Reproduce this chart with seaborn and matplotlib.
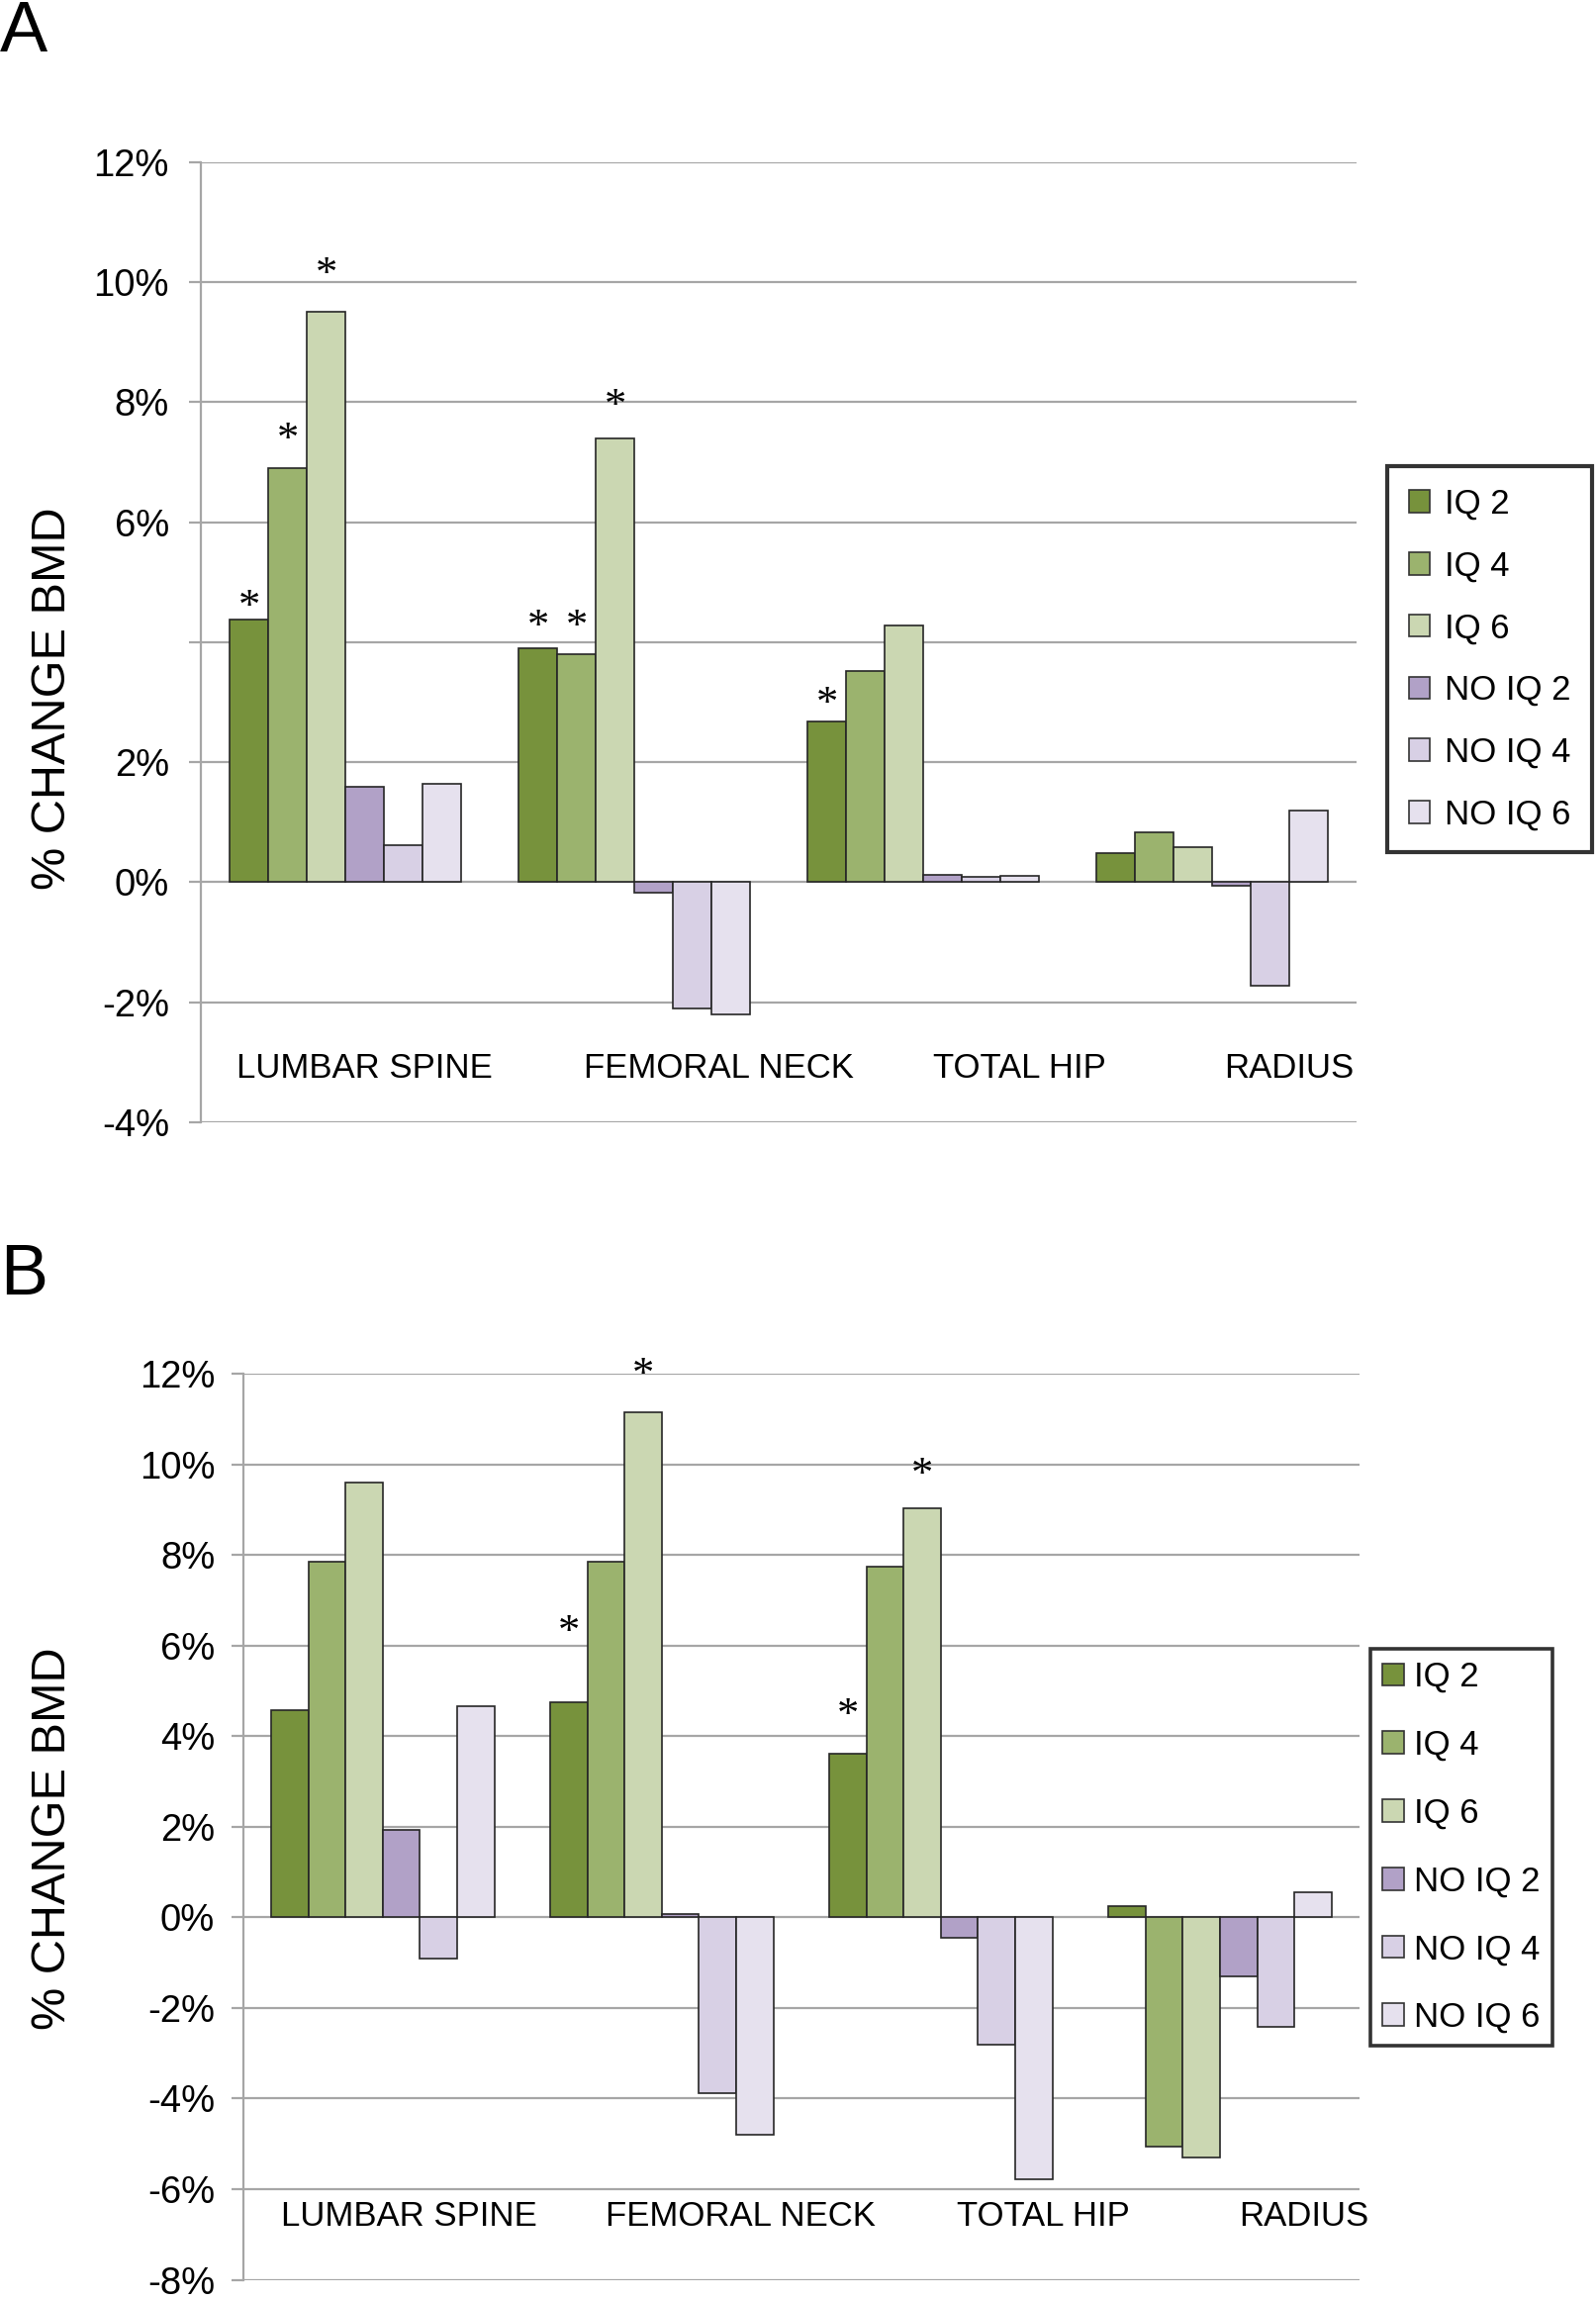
import numpy as np
import pandas as pd
import matplotlib
matplotlib.use("Agg")
import matplotlib.pyplot as plt
import matplotlib.transforms as mtransforms
from matplotlib.patches import Patch
import seaborn as sns

# ---------------- data ----------------
sites = ["LUMBAR SPINE", "FEMORAL NECK", "TOTAL HIP", "RADIUS"]
groups = ["IQ 2", "IQ 4", "IQ 6", "NO IQ 2", "NO IQ 4", "NO IQ 6"]
colors = ["#77923c", "#9bb36e", "#cbd7b2", "#b1a1c7", "#d8d0e5", "#e6e1ee"]

# Panel A (% change BMD)
a_iq2 = [4.37, 3.90, 2.68, 0.49]
a_iq4 = [6.91, 3.80, 3.52, 0.83]
a_iq6 = [9.51, 7.40, 4.28, 0.58]
a_no2 = [1.59, -0.17, 0.12, -0.06]
a_no4 = [0.61, -2.10, 0.09, -1.72]
a_no6 = [1.64, -2.20, 0.10, 1.20]

# Panel B (% change BMD)
b_iq2 = [4.57, 4.74, 3.62, 0.25]
b_iq4 = [7.84, 7.85, 7.73, -5.07]
b_iq6 = [9.60, 11.14, 9.04, -5.31]
b_no2 = [1.92, 0.08, -0.45, -1.31]
b_no4 = [-0.90, -3.87, -2.82, -2.42]
b_no6 = [4.67, -4.79, -5.77, 0.56]

# significance asterisks: (site, group, height of the asterisk)
stars_a = [("LUMBAR SPINE", "IQ 2", 4.74), ("LUMBAR SPINE", "IQ 4", 7.52),
           ("LUMBAR SPINE", "IQ 6", 10.28), ("FEMORAL NECK", "IQ 2", 4.41),
           ("FEMORAL NECK", "IQ 4", 4.41), ("FEMORAL NECK", "IQ 6", 8.08),
           ("TOTAL HIP", "IQ 2", 3.12)]
stars_b = [("FEMORAL NECK", "IQ 2", 6.49), ("FEMORAL NECK", "IQ 6", 12.17),
           ("TOTAL HIP", "IQ 2", 4.65), ("TOTAL HIP", "IQ 6", 9.96)]

yticks_a = [-4, -2, 0, 2, 4, 6, 8, 10, 12]
yticklabels_a = ["-4%", "-2%", "0%", "2%", "", "6%", "8%", "10%", "12%"]
yticks_b = [-8, -6, -4, -2, 0, 2, 4, 6, 8, 10, 12]
yticklabels_b = ["-8%", "-6%", "-4%", "-2%", "0%", "2%", "4%", "6%", "8%", "10%", "12%"]

ylabel = "% CHANGE BMD"

# ---------------- style ----------------
sns.set_style("white")
plt.rcParams["font.family"] = ["Liberation Sans", "DejaVu Sans"]
plt.rcParams["text.color"] = "black"
plt.rcParams["ytick.labelcolor"] = "black"

GRID = "#a6a6a6"
EDGE = "#262626"

fig = plt.figure(figsize=(16.13, 23.25), dpi=100)
W, H = 1613.0, 2325.0


def fig_rect(x0, y0, x1, y1):
    return [x0 / W, 1 - y1 / H, (x1 - x0) / W, (y1 - y0) / H]


ax_a = fig.add_axes(fig_rect(203.3, 164.0, 1371.0, 1133.8))
ax_b = fig.add_axes(fig_rect(245.7, 1388.0, 1374.0, 2303.6))


def draw(ax, vals, stars, ylim, yticks, yticklabels, label_pos, label_y,
         tick_len, tick_pad):
    df = pd.DataFrame({
        "site": np.tile(sites, len(groups)),
        "group": np.repeat(groups, len(sites)),
        "value": np.concatenate(vals),
    })
    sns.barplot(data=df, x="site", y="value", hue="group", order=sites,
                hue_order=groups, palette=colors, width=0.8, gap=0,
                errorbar=None, edgecolor=EDGE, linewidth=1.2, saturation=1,
                legend=False, ax=ax)
    ax.set_ylim(*ylim)
    ax.set_xlim(-0.5, len(sites) - 0.5)
    ax.set_yticks(yticks)
    ax.set_yticklabels(yticklabels, fontsize=27.5, color="black")
    ax.set_xticks([])
    ax.set_xlabel("")
    ax.set_ylabel("")
    ax.yaxis.grid(True, color=GRID, linewidth=1.6)
    ax.set_axisbelow(True)
    for s in ["top", "right", "bottom"]:
        ax.spines[s].set_visible(False)
    ax.spines["left"].set_color(GRID)
    ax.spines["left"].set_linewidth(1.6)
    ax.tick_params(axis="y", direction="out", length=tick_len, width=1.6,
                   color=GRID, pad=tick_pad, left=True, labelcolor="black")
    # category labels inside the plot area
    for site, xp in zip(sites, label_pos):
        ax.text(xp, label_y, site, ha="center", va="center", fontsize=25,
                color="black")
    # asterisks centred on their bars
    star_tr = mtransforms.offset_copy(ax.transData, fig=fig, x=0, y=-7,
                                      units="points")
    for site, grp, yv in stars:
        h = groups.index(grp)
        i = sites.index(site)
        bar = ax.containers[h][i]
        xc = bar.get_x() + bar.get_width() / 2
        ax.text(xc, yv, "*", ha="center", va="center", fontsize=32,
                family=["Liberation Serif", "DejaVu Serif"], color="black",
                transform=star_tr)


draw(ax_a, [a_iq2, a_iq4, a_iq6, a_no2, a_no4, a_no6], stars_a, (-4, 12),
     yticks_a, yticklabels_a, [0.065, 1.292, 2.332, 3.267], -3.10,
     tick_len=8.3, tick_pad=15.0)
draw(ax_b, [b_iq2, b_iq4, b_iq6, b_no2, b_no4, b_no6], stars_b, (-8, 12),
     yticks_b, yticklabels_b, [0.094, 1.284, 2.366, 3.30], -6.61,
     tick_len=9.0, tick_pad=11.5)

# y-axis titles
fig.text(54 / W, 1 - 706 / H, ylabel, rotation=90, ha="center", va="center",
         fontsize=35, color="black")
fig.text(54 / W, 1 - 1858 / H, ylabel, rotation=90, ha="center", va="center",
         fontsize=35, color="black")

# panel letters
fig.text(0 / W, 1.0, "A", ha="left", va="top", fontsize=52, color="black")
fig.text(0 / W, 1 - 1256 / H, "B", ha="left", va="top", fontsize=52,
         color="black")

# legends
handles = [Patch(facecolor=c, edgecolor="#333333", linewidth=1.2, label=g)
           for c, g in zip(colors, groups)]
leg_a = fig.legend(handles=handles, loc="upper left",
                   bbox_to_anchor=(1402 / W, 1 - 471 / H),
                   bbox_transform=fig.transFigure, fontsize=25, frameon=True,
                   fancybox=False, edgecolor="black", borderpad=0.62,
                   labelspacing=0.86, handlelength=0.63, handleheight=0.63,
                   handletextpad=0.43, borderaxespad=0)
leg_a.get_frame().set_linewidth(3)
leg_b = fig.legend(handles=handles, loc="upper left",
                   bbox_to_anchor=(1385 / W, 1 - 1666 / H),
                   bbox_transform=fig.transFigure, fontsize=25, frameon=True,
                   fancybox=False, edgecolor="black", borderpad=0.35,
                   labelspacing=1.03, handlelength=0.63, handleheight=0.63,
                   handletextpad=0.3, borderaxespad=0)
leg_b.get_frame().set_linewidth(2.6)

fig.savefig("out.png", dpi=100, facecolor="white")
